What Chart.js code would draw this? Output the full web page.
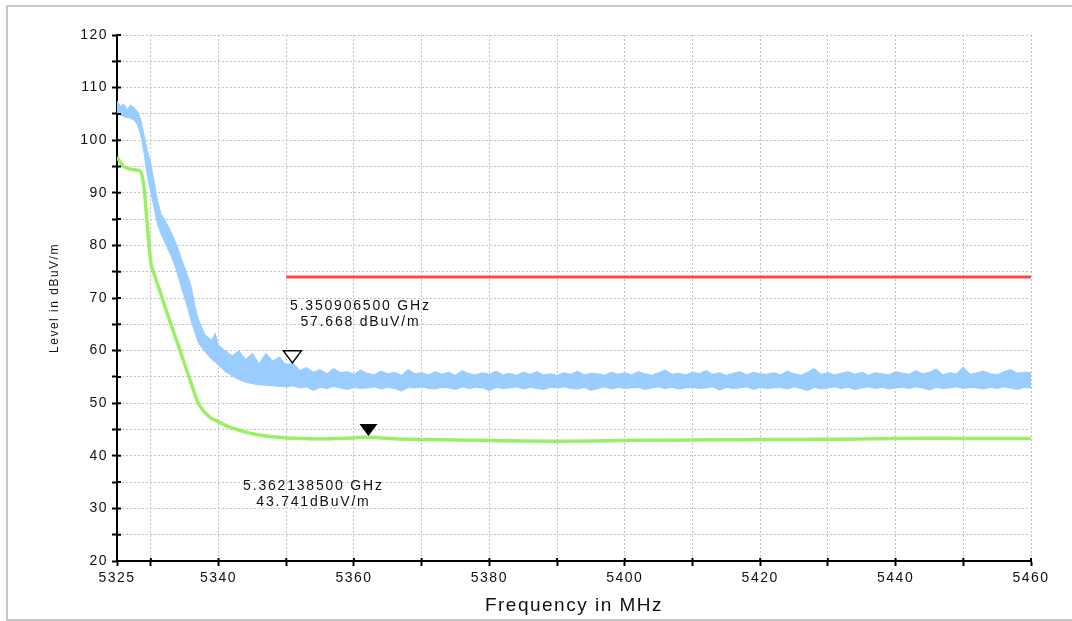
<!DOCTYPE html>
<html>
<head>
<meta charset="utf-8">
<script src="https://cdn.jsdelivr.net/npm/chart.js@4.4.1/dist/chart.umd.min.js"></script>
<style>
    body { margin: 0; background: #fff; overflow: hidden; }
    #wrap { position: relative; width: 1072px; height: 621px; }
    #frame {
        position: absolute; left: 6px; top: 5px; width: 1080px; height: 612px;
        border: 2px solid #c8c8c8; border-right: none; pointer-events: none;
    }
    #c { position: absolute; left: 0; top: 0; }
</style>
</head>
<body>
<div id="wrap">
    <div id="frame"></div>
    <canvas id="c" width="1072" height="621"></canvas>
</div>
<script>
// Peak trace (blue): upper and lower edge of the noisy band, in MHz / dBuV/m
const blueFreq = [
    5325, 5325.5, 5326, 5326.5, 5327, 5327.5, 5328, 5328.5, 5329, 5329.5,
    5330, 5330.5, 5331, 5331.5, 5332, 5332.5, 5333, 5333.5, 5334, 5334.5,
    5335, 5335.5, 5336, 5336.5, 5337, 5337.5, 5338, 5338.5, 5339, 5339.5, 5340,
    5341, 5342, 5343, 5344, 5345, 5346, 5347, 5348, 5349, 5350,
    5351, 5352, 5353, 5354, 5355, 5356, 5357, 5358, 5359, 5360,
    5361, 5362, 5363, 5364, 5365, 5366, 5367, 5368, 5369, 5370,
    5371, 5372, 5373, 5374, 5375, 5376, 5377, 5378, 5379, 5380,
    5381, 5382, 5383, 5384, 5385, 5386, 5387, 5388, 5389, 5390,
    5391, 5392, 5393, 5394, 5395, 5396, 5397, 5398, 5399, 5400,
    5401, 5402, 5403, 5404, 5405, 5406, 5407, 5408, 5409, 5410,
    5411, 5412, 5413, 5414, 5415, 5416, 5417, 5418, 5419, 5420,
    5421, 5422, 5423, 5424, 5425, 5426, 5427, 5428, 5429, 5430,
    5431, 5432, 5433, 5434, 5435, 5436, 5437, 5438, 5439, 5440,
    5441, 5442, 5443, 5444, 5445, 5446, 5447, 5448, 5449, 5450,
    5451, 5452, 5453, 5454, 5455, 5456, 5457, 5458, 5459, 5460
];
const blueMax = [
    107.5, 106.4, 106.9, 105.8, 106.7, 106.2, 105.5, 104.0, 101.0, 98.0,
    95.5, 92.0, 88.5, 86.0, 85.0, 83.8, 82.5, 81.0, 79.5, 77.5,
    75.8, 74.0, 72.0, 68.5, 66.0, 64.5, 63.0, 62.5, 62.0, 63.3, 61.0,
    60.0, 59.0, 60.0, 58.3, 59.5, 57.5, 59.5, 58.0, 58.8, 57.3,
    57.7, 56.2, 56.8, 55.9, 56.4, 55.6, 56.6, 55.8, 56.0, 55.5,
    56.3, 55.7, 55.4, 56.1, 55.6, 55.9, 55.3, 56.4, 55.6, 55.8,
    55.4, 56.0, 55.5, 55.9, 55.3, 56.2, 55.6, 55.4, 55.8, 55.5,
    56.1, 55.4, 55.7, 55.3, 55.9, 55.5, 56.0, 55.4, 55.6, 55.3,
    55.8, 55.5, 56.1, 55.4, 55.7, 55.6, 55.3, 55.9, 55.5, 55.8,
    55.4, 56.0, 55.6, 55.3, 55.8, 56.3, 55.5, 55.7, 55.4, 55.9,
    55.6, 56.2, 55.5, 55.8, 55.3, 55.7, 56.0, 55.4, 55.9, 55.6,
    55.5, 55.8, 55.4, 56.1, 55.6, 55.3, 55.9, 56.6, 55.5, 55.8,
    55.4, 55.7, 56.0, 55.5, 55.9, 55.3, 55.8, 55.6, 55.4, 56.0,
    55.7, 55.5, 56.2, 55.6, 55.9, 56.5, 55.4, 55.8, 55.6, 56.9,
    55.5, 55.8, 56.1, 55.6, 55.4, 56.0, 56.4, 55.7, 55.9, 55.8
];
const blueMin = [
    105.2, 104.8, 104.5, 104.3, 104.2, 103.8, 103.0, 101.0, 97.5, 93.0,
    90.0, 87.0, 84.0, 82.2, 80.8, 79.3, 78.0, 76.3, 74.3, 72.0,
    70.0, 67.8, 65.5, 63.5, 61.5, 60.6, 59.8, 59.0, 58.3, 57.8, 57.2,
    56.0, 55.2, 54.5, 54.0, 53.7, 53.5, 53.4, 53.3, 53.2, 53.1,
    53.3, 52.9, 53.1, 52.4, 53.0, 52.8, 53.2, 52.9, 52.6, 53.0,
    52.8, 52.9, 53.1, 52.7, 53.0, 52.8, 52.3, 53.0, 52.9, 53.1,
    52.8, 52.7, 53.0, 52.9, 52.6, 53.1, 52.8, 53.0, 52.9, 52.4,
    53.0, 52.8, 52.9, 53.1, 52.7, 53.0, 52.8, 52.6, 53.0, 52.9,
    53.1, 52.8, 52.7, 53.0, 52.4, 52.8, 53.1, 52.7, 53.0, 52.8,
    52.9, 53.0, 52.6, 52.9, 53.1, 52.8, 53.0, 52.7, 52.9, 53.0,
    52.8, 52.9, 53.1, 52.5, 53.0, 52.8, 52.9, 53.1, 52.6, 53.0,
    52.8, 52.9, 53.0, 52.7, 53.1, 52.8, 52.4, 53.0, 52.7, 52.9,
    53.1, 52.8, 53.0, 52.6, 52.9, 53.1, 52.8, 53.0, 52.7, 52.9,
    53.0, 52.8, 53.1, 52.9, 52.5, 53.0, 52.8, 52.9, 53.1, 52.8,
    53.0, 52.9, 52.7, 53.0, 52.8, 53.1, 52.9, 52.6, 53.0, 52.9
];

// Average trace (green)
const greenFreq = [
    5325, 5325.5, 5326, 5326.5, 5327, 5327.5, 5328, 5328.5, 5329, 5329.5,
    5330, 5330.5, 5331, 5331.5, 5332, 5332.5, 5333, 5333.5, 5334, 5334.5,
    5335, 5335.5, 5336, 5336.5, 5337, 5337.5, 5338, 5338.5, 5339, 5340,
    5341, 5342, 5343, 5344, 5345, 5346, 5348, 5350, 5352, 5355,
    5358, 5360, 5362, 5364, 5367, 5370, 5375, 5380, 5385, 5390,
    5395, 5400, 5405, 5410, 5415, 5420, 5425, 5430, 5435, 5440,
    5445, 5450, 5455, 5460
];
const greenLevel = [
    96.8, 95.8, 95.0, 94.7, 94.5, 94.4, 94.3, 94.0, 91.0, 83.5,
    76.8, 74.5, 72.6, 70.7, 68.7, 66.8, 64.9, 63.0, 61.2, 59.3,
    57.4, 55.5, 53.6, 51.7, 50.0, 49.0, 48.2, 47.6, 47.1, 46.5,
    45.8, 45.3, 44.9, 44.5, 44.2, 43.95, 43.6, 43.4, 43.3, 43.2,
    43.3, 43.4, 43.55, 43.4, 43.2, 43.1, 43.0, 42.9, 42.8, 42.75,
    42.8, 42.9, 42.95, 43.0, 43.05, 43.1, 43.1, 43.15, 43.2, 43.3,
    43.35, 43.3, 43.3, 43.3
];

// Limit line (red)
const limitFreq = [5350, 5460];
const limitLevel = [74, 74];

// Markers
const markerFreq = [5350.9065, 5362.1385];
const markerLevel = [57.668, 43.741];
const markerFilled = [false, true];
const markerText = [
    ['5.350906500 GHz', '57.668 dBuV/m'],
    ['5.362138500 GHz', '43.741dBuV/m']
];

// Axes
const xTickValues = [5325, 5330, 5340, 5350, 5360, 5370, 5380, 5390, 5400, 5410, 5420, 5430, 5440, 5450, 5460];
const xLabelValues = [5325, 5340, 5360, 5380, 5400, 5420, 5440, 5460];

const FONT = "'Liberation Sans', Arial, Helvetica, sans-serif";
Chart.defaults.font.family = FONT;
Chart.defaults.color = '#111';

function pts(xs, ys) {
    return xs.map((x, i) => ({ x: x, y: ys[i] }));
}

// spaced-out text like the original analyzer printout
const spacing = {
    id: 'spacing',
    beforeLayout(chart) { chart.ctx.letterSpacing = '1.5px'; },
    beforeDraw(chart) { chart.ctx.letterSpacing = '1.5px'; }
};

// short tick stubs inside the plot + marker triangles with their readouts
const extras = {
    id: 'extras',
    afterDraw(chart, args, opts) {
        const ctx = chart.ctx;
        const xs = chart.scales.x, ys = chart.scales.y;
        const area = chart.chartArea;
        ctx.save();
        ctx.strokeStyle = '#000';
        ctx.lineWidth = 2;
        ctx.beginPath();
        xs.ticks.forEach(t => {
            const px = xs.getPixelForValue(t.value);
            ctx.moveTo(px, area.bottom);
            ctx.lineTo(px, area.bottom - 3);
        });
        ys.ticks.forEach(t => {
            const py = ys.getPixelForValue(t.value);
            ctx.moveTo(area.left, py);
            ctx.lineTo(area.left + 4, py);
        });
        ctx.stroke();

        ctx.letterSpacing = '1.8px';
        ctx.font = '14px ' + FONT;
        ctx.textAlign = 'center';
        ctx.textBaseline = 'middle';
        markerFreq.forEach((f, i) => {
            const px = xs.getPixelForValue(f);
            const py = ys.getPixelForValue(markerLevel[i]);
            ctx.beginPath();
            ctx.moveTo(px, py);
            ctx.lineTo(px - 9, py - 12);
            ctx.lineTo(px + 9, py - 12);
            ctx.closePath();
            if (markerFilled[i]) {
                ctx.fillStyle = '#000';
                ctx.fill();
            } else {
                ctx.fillStyle = '#fff';
                ctx.fill();
                ctx.lineWidth = 1.5;
                ctx.strokeStyle = '#000';
                ctx.stroke();
            }
            ctx.fillStyle = '#111';
            const lx = px + opts.dx[i], ly = py + opts.dy[i];
            markerText[i].forEach((line, k) => {
                ctx.fillText(line, lx, ly + k * 16);
            });
        });
        ctx.restore();
    }
};

new Chart(document.getElementById('c'), {
    type: 'line',
    data: {
        datasets: [
            {
                data: pts(limitFreq, limitLevel),
                borderColor: '#ff4545',
                borderWidth: 3,
                pointRadius: 0
            },
            {
                data: pts(blueFreq, blueMax),
                borderColor: '#99ccff',
                backgroundColor: '#99ccff',
                borderWidth: 1,
                pointRadius: 0,
                fill: '+1'
            },
            {
                data: pts(blueFreq, blueMin),
                borderColor: '#99ccff',
                borderWidth: 1,
                pointRadius: 0,
                fill: false
            },
            {
                data: pts(greenFreq, greenLevel),
                borderColor: '#99f066',
                borderWidth: 3.5,
                pointRadius: 0,
                cubicInterpolationMode: 'monotone',
                fill: false
            }
        ]
    },
    options: {
        responsive: false,
        animation: false,
        layout: { padding: { left: 0, right: 41, top: 35, bottom: 0 } },
        plugins: {
            legend: { display: false },
            tooltip: { enabled: false },
            extras: { dx: [68, -55], dy: [-57, 50] }
        },
        scales: {
            x: {
                type: 'linear',
                min: 5325,
                max: 5460,
                afterBuildTicks: s => { s.ticks = xTickValues.map(v => ({ value: v })); },
                afterFit: s => { s.height = 60; },
                ticks: {
                    autoSkip: false,
                    maxRotation: 0,
                    padding: 4,
                    font: { size: 14 },
                    callback: v => xLabelValues.includes(v) ? String(v) : ''
                },
                grid: {
                    color: '#c2c2c2',
                    lineWidth: 1,
                    tickColor: '#000',
                    tickWidth: 2,
                    tickLength: 5
                },
                border: { color: '#000', width: 2, dash: [2, 2] },
                title: {
                    display: true,
                    text: 'Frequency in MHz',
                    font: { size: 19 },
                    padding: { top: 2, bottom: 4 }
                }
            },
            y: {
                min: 20,
                max: 120,
                afterFit: s => { s.width = 117; },
                ticks: {
                    stepSize: 5,
                    padding: 4,
                    font: { size: 14 },
                    callback: v => v % 10 === 0 ? String(v) : ''
                },
                grid: {
                    color: '#c2c2c2',
                    lineWidth: 1,
                    tickColor: '#000',
                    tickWidth: 2,
                    tickLength: 5
                },
                border: { color: '#000', width: 2, dash: [2, 2] },
                title: {
                    display: true,
                    text: 'Level in dBuV/m',
                    font: { size: 12 },
                    padding: { top: 47, bottom: 0 }
                }
            }
        }
    },
    plugins: [spacing, extras]
});
</script>
</body>
</html>
